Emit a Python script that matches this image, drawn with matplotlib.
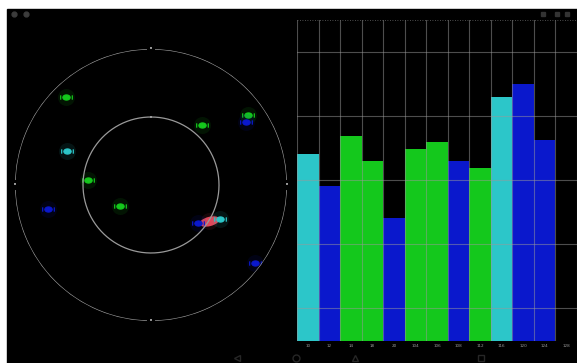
import numpy as np
import matplotlib
matplotlib.use("Agg")
import matplotlib.pyplot as plt
from matplotlib.patches import Rectangle
from matplotlib.path import Path
from matplotlib.markers import MarkerStyle
from matplotlib.transforms import Affine2D

# satellites in the sky view: azimuth (deg from north, clockwise), elevation (deg)
sat_azimuth = [316, 292, 274.5, 236, 257, 40, 54, 56.5, 122, 116, 129, 127]
sat_elevation = [9.5, 30, 48, 65, 20, 38, 11, 15, 45, 39, 50, 4]
sat_kind = ["green", "cyan", "green", "green", "blue", "green",
            "green", "blue", "red", "cyan", "blue", "blue"]

# signal strength bars
bar_labels = ["10", "12", "14", "18", "20", "104", "106", "108", "112",
              "116", "120", "124", "128"]
bar_values = [187, 155, 205, 180, 123, 192, 199, 180, 173, 244, 257, 201, 0]
bar_kind = ["cyan", "blue", "green", "green", "blue", "green", "green",
            "blue", "green", "cyan", "blue", "blue", "blue"]

colors = {"cyan": "#2cc6c9", "green": "#14c81c", "blue": "#0a18cc", "red": "#e0485a"}

W, H = 577, 363
fig = plt.figure(figsize=(W / 100, H / 100), dpi=100)
fig.patch.set_facecolor("white")

# screen background
bg = fig.add_axes([0, 0, 1, 1])
bg.set_xlim(0, W)
bg.set_ylim(H, 0)
bg.axis("off")
bg.add_patch(Rectangle((7, 9), W - 7, H - 9, color="black"))
# status bar / nav bar hints
for x in (14, 26):
    bg.plot(x, 14, "o", ms=3.5, color="#3c3c3c")
for x in (543, 557, 567):
    bg.plot(x, 14, "s", ms=2.5, color="#333333")
for x, m in ((237, "<"), (296, "o"), (355, "^"), (481, "s")):
    bg.plot(x, 358, m, ms=5, mfc="none", mec="#262626", mew=1)

# ---- sky plot ----
R = 136
cx, cy = 151, 185
sky = fig.add_axes([(cx - R) / W, (H - cy - R) / H, 2 * R / W, 2 * R / H],
                   projection="polar")
sky.set_theta_zero_location("N")
sky.set_theta_direction(-1)
sky.set_ylim(0, 90)
sky.set_facecolor("none")
sky.grid(False)
sky.set_xticks([])
sky.set_yticks([])
sky.spines["polar"].set_visible(False)

t = np.linspace(0, 2 * np.pi, 400)
sky.plot(t, np.full_like(t, 90), color="#9a9a9a", lw=0.9)
sky.plot(t, np.full_like(t, 45), color="#9a9a9a", lw=0.9)
for ang in (0, 90, 180, 270):
    sky.text(np.radians(ang), 90, "•", color="#bbbbbb", fontsize=5,
             ha="center", va="center",
             bbox=dict(boxstyle="square,pad=0.35", fc="black", ec="none"))

# satellite icon: ellipse body with small panels on both sides
body = Path.unit_circle().transformed(Affine2D().scale(1.0, 0.7))
wings = Path([(-1.6, -0.6), (-1.6, 0.6), (1.6, -0.6), (1.6, 0.6)],
             [Path.MOVETO, Path.LINETO, Path.MOVETO, Path.LINETO])
sat_marker = Path.make_compound_path(body, wings)

theta = np.radians(sat_azimuth)
rad = 90 - np.array(sat_elevation)
for th, r, k in zip(theta, rad, sat_kind):
    c = colors[k]
    sky.scatter(th, r, s=150, color=c, alpha=0.10, marker="o", lw=0)
    if k == "red":
        m = MarkerStyle("o", transform=Affine2D().scale(2.2, 1.0).rotate_deg(15))
        sky.scatter(th, r, s=45, color=c, marker=m, lw=0)
    else:
        sky.scatter(th, r, s=70, facecolor=c, edgecolor=c, lw=0.9,
                    marker=sat_marker)

# ---- signal bars ----
left, right, top, base = 297, 577, 20, 341
ax = fig.add_axes([left / W, (H - base) / H, (right - left) / W, (base - top) / H])
ax.set_facecolor("black")
x = np.arange(len(bar_values))
ax.bar(x, bar_values, width=1.0, color=[colors[k] for k in bar_kind], zorder=1)
ax.set_xlim(-0.5, len(bar_values) - 0.5)
ax.set_ylim(0, base - top)
for yv in (33, 97, 161, 225, 289):
    ax.axhline(yv, color="#9a9a9a", lw=0.8, alpha=0.5, zorder=2)
for xv in np.arange(-0.5, len(bar_values), 1.0):
    ax.axvline(xv, color="#9a9a9a", lw=0.8, alpha=0.5, zorder=2)
ax.axhline(base - top - 0.5, color="#666666", lw=0.6, ls=(0, (1, 2)), zorder=2)
ax.set_xticks(x)
ax.set_xticklabels(bar_labels, fontsize=3, color="#9a9a9a")
ax.tick_params(axis="x", length=0, pad=2)
ax.set_yticks([])
for s in ax.spines.values():
    s.set_visible(False)

fig.savefig("out.png", dpi=100, facecolor=fig.get_facecolor())
